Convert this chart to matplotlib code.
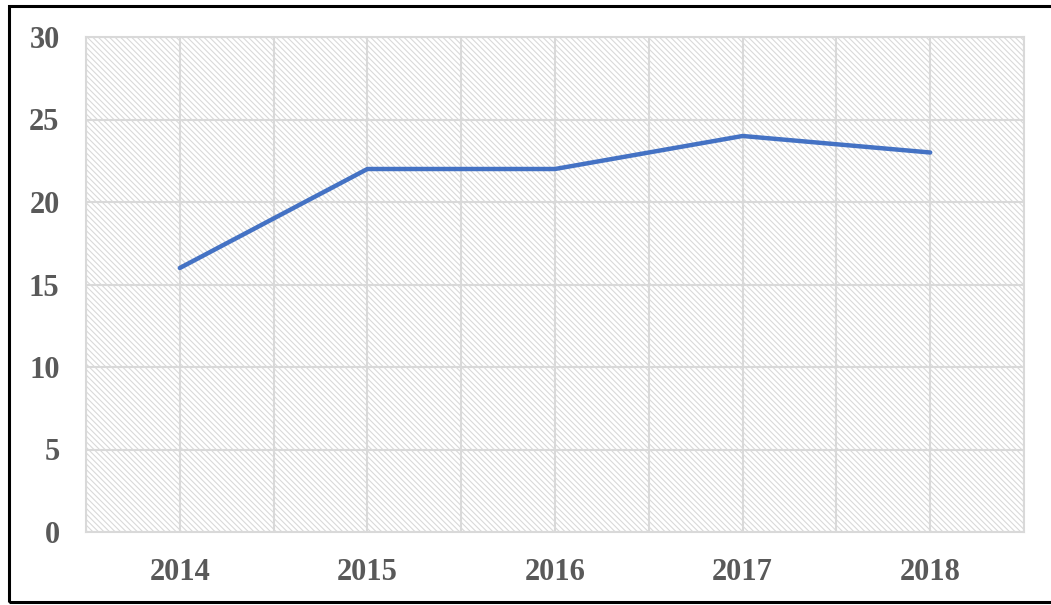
import matplotlib.pyplot as plt
from matplotlib.patches import Rectangle

anos = ['2014', '2015', '2016', '2017', '2018']
valores = [16, 22, 22, 24, 23]
yticks = [0, 5, 10, 15, 20, 25, 30]

cinza_texto = '#595959'
cinza_grade = '#d9d9d9'

plt.rcParams['hatch.linewidth'] = 0.8

fig = plt.figure(figsize=(10.51, 6.05), dpi=100)
ax = fig.add_axes([86/1051, 1 - 532/605, (1024 - 86)/1051, (532 - 37)/605])

# fundo hachurado da area do grafico
fundo = Rectangle((0, 0), 1, 1, transform=ax.transAxes, facecolor='white',
                  edgecolor='#d9d9d9', hatch='\\' * 6, linewidth=0, zorder=0)
ax.add_patch(fundo)

x = list(range(len(anos)))
ax.plot(x, valores, color='#4472C4', linewidth=3.2, solid_capstyle='round', zorder=3)

ax.set_xlim(-0.5, len(anos) - 0.5)
ax.set_ylim(0, 30)
ax.set_xticks(x)
ax.set_xticklabels(anos)
ax.set_xticks([i + 0.5 for i in range(-1, len(anos))], minor=True)
ax.set_yticks(yticks)

ax.grid(True, which='both', axis='x', color=cinza_grade, linewidth=1.5, zorder=1)
ax.grid(True, which='major', axis='y', color=cinza_grade, linewidth=1.5, zorder=1)
ax.set_axisbelow(True)

for s in ax.spines.values():
    s.set_color(cinza_grade)
    s.set_linewidth(1.5)

ax.tick_params(which='both', length=0)
ax.tick_params(axis='x', pad=19)
ax.tick_params(axis='y', pad=19)
for lbl in ax.get_xticklabels() + ax.get_yticklabels():
    lbl.set_fontfamily('Liberation Serif')
    lbl.set_fontweight('bold')
    lbl.set_fontsize(22)
    lbl.set_color(cinza_texto)

# moldura preta da figura
moldura = Rectangle((9/1051, 1 - 602/605), 1.01, (602 - 6)/605, transform=fig.transFigure,
                    fill=False, edgecolor='black', linewidth=2.2, clip_on=False)
fig.patches.append(moldura)

fig.savefig('out.png', dpi=100)
